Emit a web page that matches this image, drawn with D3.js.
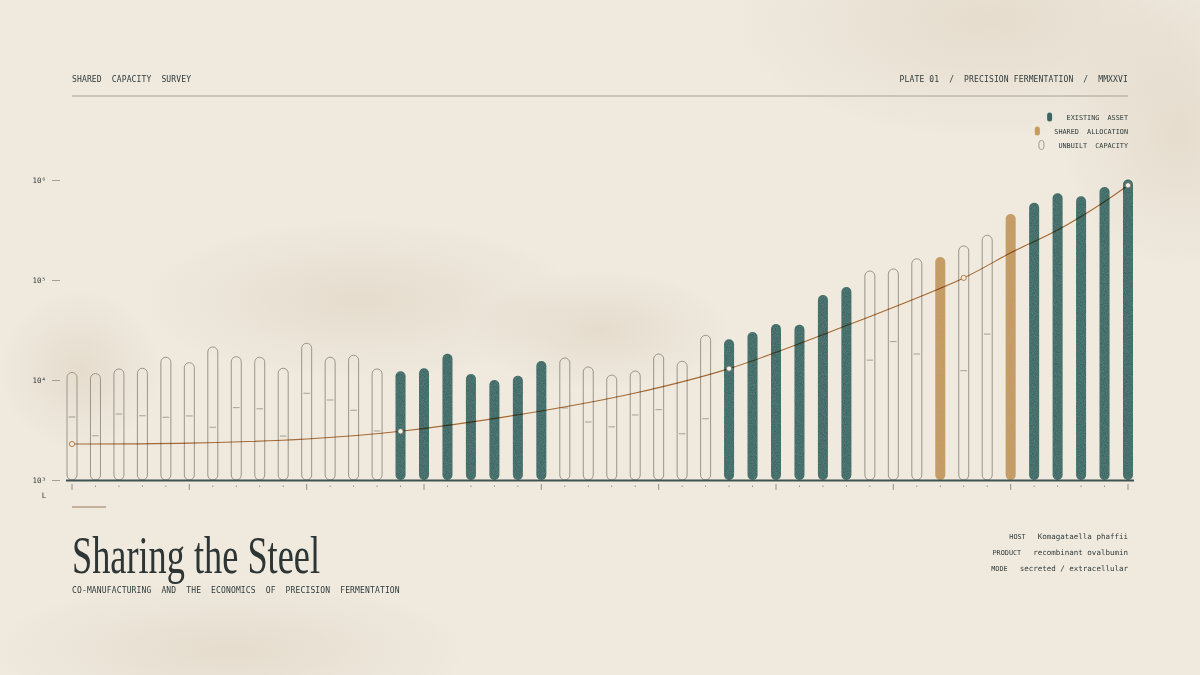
<!DOCTYPE html>
<html>
<head>
<meta charset="utf-8">
<script src="https://cdn.jsdelivr.net/npm/d3@7"></script>
<style>
  html, body { margin: 0; padding: 0; background: #efe9de; }
  svg { display: block; }
  .mono { font-family: "DejaVu Sans Mono", "Liberation Mono", monospace; fill: #2f3b3b; white-space: pre; }
</style>
</head>
<body>
<script>
// capacity per facility (litres)
const capacity = [11900, 11600, 12900, 13100, 16900, 14900, 21400, 17100, 16900, 13100,
  23300, 16900, 17700, 12900, 12200, 13100, 18300, 11500, 10000, 11000,
  15500, 16600, 13500, 11200, 12300, 18200, 15400, 28000, 25500, 30200,
  36300, 35700, 70800, 85000, 123000, 129000, 163000, 170000, 219000, 280000,
  457000, 593000, 736000, 687000, 851000, 1010000];
// E = existing asset, S = shared allocation, U = unbuilt capacity
const status = ["U","U","U","U","U","U","U","U","U","U","U","U","U","U",
  "E","E","E","E","E","E","E",
  "U","U","U","U","U","U","U",
  "E","E","E","E","E","E",
  "U","U","U","S","U","U","S",
  "E","E","E","E","E"];
// little inner marks in the unbuilt bars
const innerMark = [4270, 2770, 4570, 4390, 4240, 4370, 3370, 5290, 5150, 2750,
  7360, 6310, 4980, 3090, null, null, null, null, null, null,
  null, 5250, 3800, 3400, 4470, 5050, 2900, 4100, null, null,
  null, null, null, null, 15800, 24200, 18200, null, 12400, 28800,
  null, null, null, null, null, null];
// cost curve
const curveIdx = [0, 5, 10, 14, 20, 24, 28, 33, 38, 40, 42, 44, 45];
const curveVal = [2290, 2340, 2570, 3070, 4900, 7400, 13000, 35000, 105000, 187000, 316000, 607000, 885000];
const markerIdx = [0, 14, 28, 38, 45];
const yTicks = [1e3, 1e4, 1e5, 1e6];
const yTickLabels = ["10³", "10⁴", "10⁵", "10⁶"];

const width = 1200, height = 675;
const green = "#3b6763", tan = "#c89a5b", outline = "#9a958c", ink = "#2f3b3b", copper = "#b0743c";

const svg = d3.select("body").append("svg").attr("width", width).attr("height", height);
const defs = svg.append("defs");

const stainGrad = defs.append("radialGradient").attr("id", "stain");
stainGrad.append("stop").attr("offset", "0%").attr("stop-color", "#d6c9b4").attr("stop-opacity", 0.4);
stainGrad.append("stop").attr("offset", "55%").attr("stop-color", "#d6c9b4").attr("stop-opacity", 0.18);
stainGrad.append("stop").attr("offset", "100%").attr("stop-color", "#d6c9b4").attr("stop-opacity", 0);

const grain = defs.append("filter").attr("id", "grain");
grain.append("feTurbulence").attr("type", "fractalNoise").attr("baseFrequency", 1.1).attr("numOctaves", 1).attr("seed", 3).attr("result", "n");
grain.append("feColorMatrix").attr("in", "n").attr("type", "matrix")
  .attr("values", "0 0 0 0 0.36  0 0 0 0 0.52  0 0 0 0 0.5  0 0 0 0.35 -0.1").attr("result", "c");
grain.append("feComposite").attr("in", "c").attr("in2", "SourceGraphic").attr("operator", "in").attr("result", "g");
grain.append("feMerge").selectAll("feMergeNode").data(["SourceGraphic", "g"]).enter().append("feMergeNode").attr("in", d => d);

svg.append("rect").attr("width", width).attr("height", height).attr("fill", "#efe9de");
const stains = svg.append("g");
[[990, 20, 260, 120], [1180, 130, 120, 140], [360, 300, 220, 80], [600, 330, 130, 60], [230, 650, 240, 70], [80, 370, 80, 80]]
  .forEach(s => stains.append("ellipse").attr("cx", s[0]).attr("cy", s[1]).attr("rx", s[2]).attr("ry", s[3]).attr("fill", "url(#stain)"));

// header
svg.append("text").attr("class", "mono").attr("x", 72).attr("y", 82).attr("font-size", 8)
  .attr("letter-spacing", 0.15).text("SHARED  CAPACITY  SURVEY");
svg.append("text").attr("class", "mono").attr("x", 1128).attr("y", 82).attr("font-size", 8)
  .attr("text-anchor", "end").attr("letter-spacing", 0.15)
  .text("PLATE 01  /  PRECISION FERMENTATION  /  MMXXVI");
svg.append("line").attr("x1", 72).attr("x2", 1128).attr("y1", 96).attr("y2", 96)
  .attr("stroke", "#a8a196").attr("stroke-width", 1);

// legend
const legend = [["EXISTING  ASSET", "E", 117], ["SHARED  ALLOCATION", "S", 131], ["UNBUILT  CAPACITY", "U", 145]];
legend.forEach(l => {
  const t = svg.append("text").attr("class", "mono").attr("x", 1128).attr("y", l[2] + 2.5).attr("font-size", 6.8)
    .attr("text-anchor", "end").text(l[0]);
  const w = t.node().getComputedTextLength();
  const cx = 1128 - w - 17;
  svg.append("rect").attr("x", cx - 2.5).attr("y", l[2] - 4.5).attr("width", 5).attr("height", 9).attr("rx", 2.5)
    .attr("fill", l[1] === "E" ? green : l[1] === "S" ? tan : "none")
    .attr("stroke", l[1] === "U" ? outline : "none").attr("stroke-width", 0.9);
});

// scales
const x = d3.scalePoint().domain(d3.range(capacity.length)).range([72, 1128]);
const y = d3.scaleLog().domain([1e3, 1e6]).range([480, 180]);

// y axis
const yAxis = d3.axisLeft(y).tickValues(yTicks).tickFormat((d, i) => yTickLabels[i]).tickSize(8).tickPadding(6);
const ya = svg.append("g").attr("transform", "translate(60,0)").call(yAxis);
ya.select(".domain").remove();
ya.selectAll("line").attr("stroke", "#8f8a80").attr("stroke-width", 0.8);
ya.selectAll("text").attr("fill", ink).attr("font-family", "DejaVu Sans Mono, monospace").attr("font-size", 7.5);
svg.append("text").attr("class", "mono").attr("x", 44).attr("y", 498).attr("font-size", 7.5).attr("text-anchor", "middle").text("L");

// bars
const bw = 10;
svg.append("g").selectAll("rect").data(capacity).enter().append("rect")
  .attr("x", (d, i) => x(i) - bw / 2)
  .attr("y", d => y(d))
  .attr("width", bw)
  .attr("height", d => 480 - y(d))
  .attr("rx", bw / 2)
  .attr("fill", (d, i) => status[i] === "E" ? green : status[i] === "S" ? tan : "none")
  .attr("stroke", (d, i) => status[i] === "U" ? outline : "none")
  .attr("stroke-width", 1)
  .attr("filter", (d, i) => status[i] === "U" ? null : "url(#grain)");

innerMark.forEach((m, i) => {
  if (m == null) return;
  svg.append("line").attr("x1", x(i) - 3.3).attr("x2", x(i) + 3.3).attr("y1", y(m)).attr("y2", y(m))
    .attr("stroke", "#a59f95").attr("stroke-width", 1);
});

// baseline and ticks
svg.append("line").attr("x1", 66).attr("x2", 1134).attr("y1", 480.5).attr("y2", 480.5)
  .attr("stroke", "#3e5252").attr("stroke-width", 2);
svg.append("g").selectAll("line").data(d3.range(capacity.length)).enter().append("line")
  .attr("x1", i => x(i)).attr("x2", i => x(i))
  .attr("y1", i => i % 5 === 0 ? 484 : 485.5)
  .attr("y2", i => i % 5 === 0 ? 490 : 487)
  .attr("stroke", "#8a857b").attr("stroke-width", 0.9);

// curve
const pts = curveIdx.map((c, k) => [x(c), y(curveVal[k])]);
svg.append("path").attr("d", d3.line().curve(d3.curveCatmullRom.alpha(0.5))(pts))
  .attr("fill", "none").attr("stroke", copper).attr("stroke-width", 1.1)
  .style("mix-blend-mode", "multiply");
markerIdx.forEach(m => {
  const k = curveIdx.indexOf(m);
  const onFill = status[m] !== "U";
  svg.append("circle").attr("cx", x(m)).attr("cy", y(curveVal[k])).attr("r", 2.6)
    .attr("fill", onFill ? "#f6f1e8" : "#efe9de")
    .attr("stroke", onFill ? "#7d766c" : copper).attr("stroke-width", 0.9);
});

// footer
svg.append("line").attr("x1", 72).attr("x2", 106).attr("y1", 507).attr("y2", 507)
  .attr("stroke", "#9c7a58").attr("stroke-width", 1.2);
svg.append("text").attr("x", 72).attr("y", 573).attr("font-family", "Liberation Serif, serif")
  .attr("font-size", 52).attr("fill", "#2d3535").attr("textLength", 248).attr("lengthAdjust", "spacingAndGlyphs")
  .text("Sharing the Steel");
svg.append("text").attr("class", "mono").attr("x", 72).attr("y", 593).attr("font-size", 8)
  .attr("letter-spacing", 0.15)
  .text("CO-MANUFACTURING  AND  THE  ECONOMICS  OF  PRECISION  FERMENTATION");

const meta = [["HOST", "Komagataella phaffii", 539], ["PRODUCT", "recombinant ovalbumin", 555], ["MODE", "secreted / extracellular", 571]];
meta.forEach(m => {
  const t = svg.append("text").attr("class", "mono").attr("x", 1128).attr("y", m[2]).attr("text-anchor", "end");
  t.append("tspan").attr("font-size", 6.8).text(m[0]);
  t.append("tspan").attr("font-size", 7.5).attr("dx", 12).text(m[1]);
});
</script>
</body>
</html>
